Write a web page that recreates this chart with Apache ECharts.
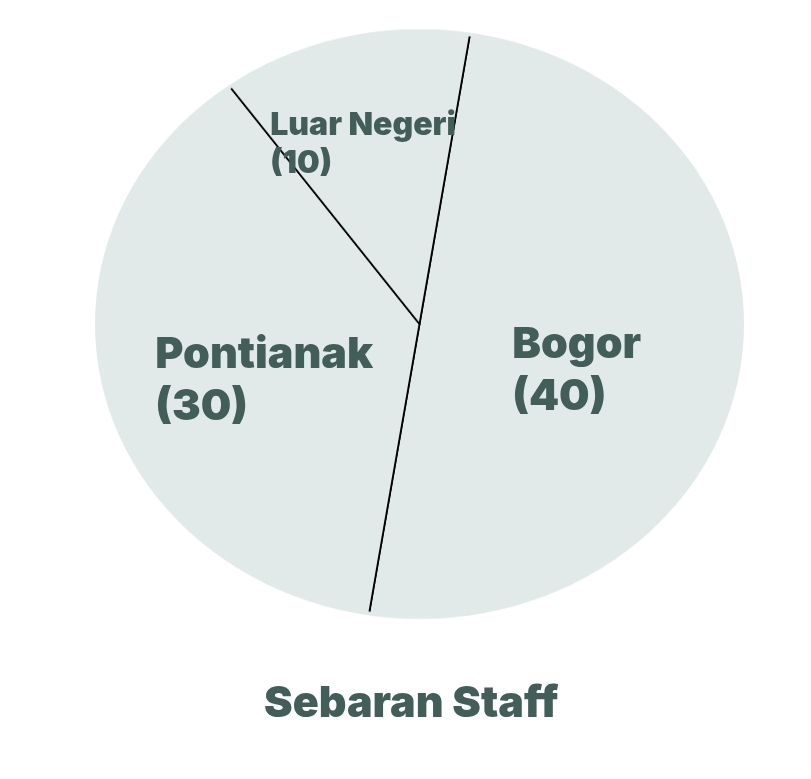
<!DOCTYPE html>
<html>
<head>
<meta charset="utf-8">
<script src="https://cdn.jsdelivr.net/npm/echarts@6/dist/echarts.min.js"></script>
<style>
  html, body { margin: 0; padding: 0; background: #ffffff; }
  #wrap { position: relative; width: 811px; height: 779px; overflow: hidden; }
  #pieLayer, #textLayer { position: absolute; left: 0; top: 0; width: 811px; height: 779px; }
  #pieLayer { transform-origin: 419.5px 324px; transform: scaleY(0.909); }
  #textLayer { pointer-events: none; }
</style>
</head>
<body>
<div id="wrap">
  <div id="pieLayer"></div>
  <div id="textLayer"></div>
</div>
<script>
// ---- data ----
const categories = ['Bogor', 'Pontianak', 'Luar Negeri'];
const values = [40, 30, 10];
const chartTitle = 'Sebaran Staff';

// ---- styling (kept separate from data) ----
const FILL = '#e1eae8';
const TEXT = '#415e59';
const FONT = 'Inter, "Noto Sans", sans-serif';
const CENTER = [419.5, 324];
const R = 322.5;
const START = 81;
const labelStyle = [
  { size: 43, lh: 52, w: 135, dx: -2, dy: 21 },
  { size: 43, lh: 52, w: 225, dx: 8, dy: 19 },
  { size: 32, lh: 38, w: 192, dx: -15, dy: -20 }
];

const pieData = categories.map((c, i) => ({ name: c, value: values[i] }));

// ---- pie layer (stretched into an ellipse) ----
const pieChart = echarts.init(document.getElementById('pieLayer'), null, { renderer: 'canvas' });
pieChart.setOption({
  backgroundColor: 'transparent',
  animation: false,
  series: [
    {
      type: 'pie',
      center: CENTER,
      radius: [0, R],
      startAngle: START,
      clockwise: true,
      avoidLabelOverlap: false,
      silent: true,
      label: { show: false },
      labelLine: { show: false },
      itemStyle: { color: FILL, borderColor: '#000000', borderWidth: 1.8 },
      data: pieData
    },
    {
      type: 'pie',
      center: CENTER,
      radius: [R - 2, R + 2],
      silent: true,
      label: { show: false },
      labelLine: { show: false },
      itemStyle: { color: FILL, borderWidth: 0 },
      data: [{ name: 'rim', value: 1 }]
    }
  ]
});

// ---- text layer (labels + title, not stretched) ----
const textChart = echarts.init(document.getElementById('textLayer'), null, { renderer: 'canvas' });
textChart.setOption({
  backgroundColor: 'transparent',
  animation: false,
  title: {
    text: chartTitle,
    left: 264,
    top: 679,
    padding: 0,
    textStyle: {
      fontFamily: FONT,
      fontSize: 43,
      fontWeight: 900,
      color: TEXT,
      lineHeight: 50
    }
  },
  series: [
    {
      type: 'pie',
      center: CENTER,
      radius: [0, R],
      startAngle: START,
      clockwise: true,
      avoidLabelOverlap: false,
      silent: true,
      itemStyle: { color: 'rgba(0,0,0,0)', borderWidth: 0 },
      labelLine: { show: false },
      data: pieData.map((d, i) => ({
        name: d.name,
        value: d.value,
        label: {
          show: true,
          position: 'inside',
          formatter: p => '{n|' + p.name + '}\n{n|(' + p.value + ')}',
          rich: {
            n: {
              width: labelStyle[i].w,
              align: 'left',
              fontFamily: FONT,
              fontSize: labelStyle[i].size,
              fontWeight: 900,
              lineHeight: labelStyle[i].lh,
              color: TEXT
            }
          }
        }
      })),
      labelLayout: p => ({ dx: labelStyle[p.dataIndex].dx, dy: labelStyle[p.dataIndex].dy })
    }
  ]
});
</script>
</body>
</html>
